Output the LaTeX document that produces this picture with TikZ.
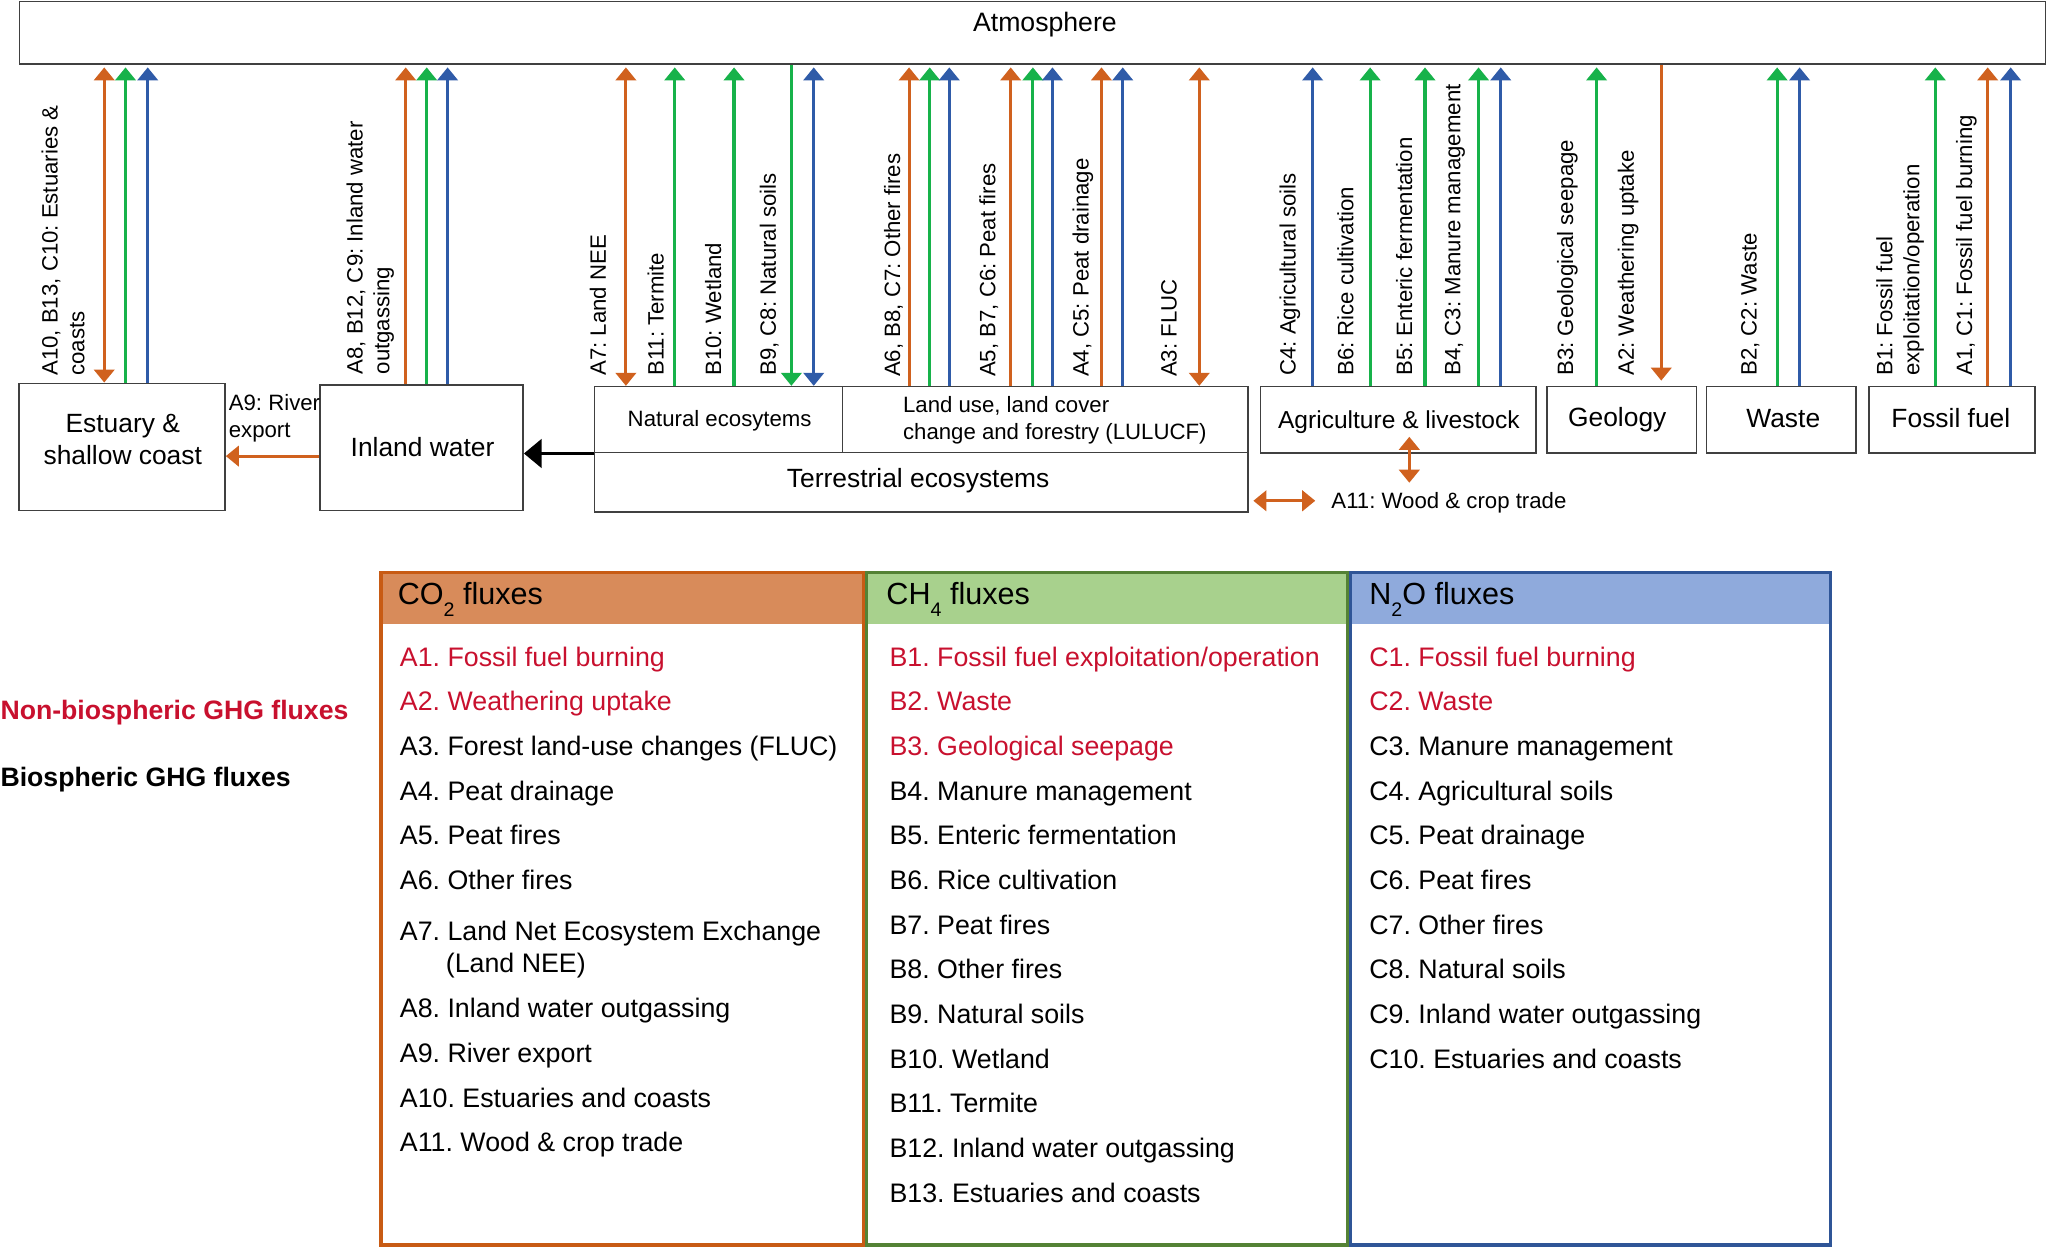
\documentclass[tikz,border=0pt]{standalone}
\usepackage{fontspec}
\setmainfont{Liberation Sans}
\usetikzlibrary{arrows.meta}
\frenchspacing
\definecolor{cor}{HTML}{D0611E}
\definecolor{cgr}{HTML}{17B24A}
\definecolor{cbl}{HTML}{2F5BA8}
\definecolor{tor}{HTML}{C85B14}
\definecolor{tgr}{HTML}{548235}
\definecolor{tbl}{HTML}{2F5597}
\definecolor{hor}{HTML}{D88B5A}
\definecolor{hgr}{HTML}{A8D18D}
\definecolor{hbl}{HTML}{8FAADC}
\definecolor{cred}{HTML}{C8102E}
\definecolor{bx}{HTML}{404040}
\newcommand{\gsub}[1]{\raisebox{-4.5pt}{\fontsize{7.5}{8}\selectfont #1}}
\begin{document}
\begin{tikzpicture}[x=0.5pt,y=-0.5pt,
  >={Triangle[width=7.8pt,length=5pt]},
  box/.style={draw=bx, line width=0.6pt, inner sep=0, rectangle},
  flux/.style={line width=1.2pt},
  lab/.style={rotate=90, anchor=west, inner sep=0, align=left, font=\fontsize{8.5}{10.3}\selectfont},
  txt/.style={inner sep=0, font=\fontsize{10.1}{12.2}\selectfont},
  item/.style={anchor=base west, inner sep=0, font=\fontsize{10.25}{12}\selectfont},
  hdr/.style={anchor=base west, inner sep=0, font=\fontsize{11.7}{14}\selectfont},
  frame/.style={line width=1.3pt, inner sep=0, anchor=north west, minimum height=257.5pt},
  head/.style={inner sep=0, anchor=north west, minimum height=20.15pt},
]
\useasboundingbox (0,0) rectangle (1568,954);

% ---------- boxes ----------
\node[box, minimum width=775.5pt, minimum height=24pt] (atm) at (790.5,25) {};
\node[txt, font=\fontsize{10.2}{12}\selectfont] (atmt) at (800,19) {Atmosphere};

\node[box, minimum width=78.8pt, minimum height=48.75pt] (est) at (93.5,342.25) {};
\node[box, minimum width=77.75pt, minimum height=48.1pt] (inl) at (322.75,342.9) {};
\node[box, minimum width=95pt, minimum height=25.3pt] (nat) at (550,321.3) {};
\node[box, minimum width=155.25pt, minimum height=25.3pt] (lul) at (800.25,321.3) {};
\node[box, minimum width=250.25pt, minimum height=22.6pt] (ter) at (705.25,369.2) {};
\node[box, minimum width=105.5pt, minimum height=25.5pt] (agr) at (1070.5,321.5) {};
\node[box, minimum width=57.05pt, minimum height=25.5pt] (geo) at (1241.65,321.5) {};
\node[box, minimum width=57.25pt, minimum height=25.5pt] (was) at (1363.75,321.5) {};
\node[box, minimum width=63.5pt, minimum height=25.5pt] (fos) at (1494.5,321.5) {};

\node[txt, align=center] (estt) at (94,336.2) {Estuary \&\\shallow coast};
\node[txt] (inlt) at (323.5,342) {Inland water};
\node[txt, font=\fontsize{8.5}{10.2}\selectfont] (natt) at (551,322.4) {Natural ecosytems};
\node[txt, font=\fontsize{8.5}{10.2}\selectfont, align=left, anchor=west] (lult) at (691,321.6) {Land use, land cover\\change and forestry (LULUCF)};
\node[txt] (tert) at (703,368) {Terrestrial ecosystems};
\node[txt, font=\fontsize{9.4}{11}\selectfont] (agrt) at (1071,322.9) {Agriculture \& livestock};
\node[txt] (geot) at (1238.2,321.6) {Geology};
\node[txt] (wast) at (1365.3,320.3) {Waste};
\node[txt] (fost) at (1493.6,320.3) {Fossil fuel};

% ---------- vertical fluxes ----------
\foreach \xx/\cc/\ss in {96.1/cgr/est, 113.1/cbl/est, 310.6/cor/inl, 326.7/cgr/inl, 342.7/cbl/inl,
  516.6/cgr/nat, 562/cgr/nat, 696/cor/lul, 711.8/cgr/lul, 726.8/cbl/lul, 773.8/cor/lul,
  790.8/cgr/lul, 805.8/cbl/lul, 843.3/cor/lul, 859.6/cbl/lul, 1005/cbl/agr, 1049/cgr/agr,
  1091/cgr/agr, 1132/cgr/agr, 1149/cbl/agr, 1222.4/cgr/geo, 1360.6/cgr/was, 1377.8/cbl/was,
  1481.7/cgr/fos, 1521.8/cor/fos, 1539.4/cbl/fos}
  \draw[flux,\cc,->,shorten >=1pt] (\ss.north -| \xx,0) -- (atm.south -| \xx,0);
\foreach \xx/\cc/\ss in {79.8/cor/est, 479.2/cor/nat, 623/cbl/nat, 918.2/cor/lul}
  \draw[flux,\cc,<->,shorten >=1pt] (\ss.north -| \xx,0) -- (atm.south -| \xx,0);
\draw[flux,cgr,->] (atm.south -| 605.9,0) -- (nat.north -| 605.9,0);
\draw[flux,cor,->,shorten >=2pt] (atm.south -| 1271.9,0) -- (geo.north -| 1271.9,0);

% ---------- flux labels ----------
\node[lab] (lA10) at (48.3,288) {A10, B13, C10: Estuaries \&\\coasts};
\node[lab] (lA8) at (283.5,287) {A8, B12, C9: Inland water\\outgassing};
\node[lab] (lA7) at (457.7,288) {A7: Land NEE};
\node[lab] (lB11) at (502,288) {B11: Termite};
\node[lab] (lB10) at (546,288) {B10: Wetland};
\node[lab] (lB9) at (589,288) {B9, C8: Natural soils};
\node[lab] (lA6) at (684,289) {A6, B8, C7: Other fires};
\node[lab] (lA5) at (757,289) {A5, B7, C6: Peat fires};
\node[lab] (lA4) at (829,289) {A4, C5: Peat drainage};
\node[lab] (lA3) at (895,289) {A3: FLUC};
\node[lab] (lC4) at (987.6,288) {C4: Agricultural soils};
\node[lab] (lB6) at (1030,288) {B6: Rice cultivation};
\node[lab] (lB5) at (1075,288) {B5: Enteric fermentation};
\node[lab] (lB4) at (1114,288) {B4, C3: Manure management};
\node[lab] (lB3) at (1200,288) {B3: Geological seepage};
\node[lab] (lA2) at (1246.5,288) {A2: Weathering uptake};
\node[lab] (lB2) at (1340,288) {B2, C2: Waste};
\node[lab] (lB1) at (1454.8,288) {B1: Fossil fuel\\exploitation/operation};
\node[lab] (lA1) at (1505.5,288) {A1, C1: Fossil fuel burning};

% ---------- lateral fluxes ----------
\draw[line width=1.4pt, -{Triangle[width=10.8pt,length=6.75pt]}] (nat.south west) -- (inl.east |- nat.south west);
\coordinate (a9s) at ([yshift=-3.15pt]inl.west);
\draw[flux,cor,->] (a9s) -- (a9s -| est.east);
\node[txt, font=\fontsize{8.5}{10.25}\selectfont, align=left, anchor=west] (a9lab) at (174.8,320.3) {A9: River\\export};

\coordinate (a11t) at (1079,334.4);
\coordinate (a11b) at (1079,369.6);
\draw[flux,cor,<->] (a11t) -- (a11b);
\coordinate (a11l) at (959.6,383.4);
\coordinate (a11r) at (1007,383.4);
\draw[flux,cor,<->] (a11l) -- (a11r);
\node[txt, font=\fontsize{8.5}{10}\selectfont, anchor=west] (a11lab) at (1019,385) {A11: Wood \& crop trade};

% ---------- legend ----------
\node[item, font=\bfseries\fontsize{10.2}{12}\selectfont, text=cred] (nonbio) at (0,551) {Non-biospheric GHG fluxes};
\node[item, font=\bfseries\fontsize{10.2}{12}\selectfont] (bio) at (0,602) {Biospheric GHG fluxes};

% ---------- table ----------
\node[head, fill=hor, minimum width=184.65pt] (co2h) at (290.5,437) {};
\node[head, fill=hgr, minimum width=184pt] (ch4h) at (662.3,437) {};
\node[head, fill=hbl, minimum width=183.6pt] (n2oh) at (1032.8,437) {};
\node[frame, draw=tor, minimum width=184.65pt] (co2) at (290.5,437) {};
\node[frame, draw=tgr, minimum width=184pt] (ch4) at (662.3,437) {};
\node[frame, draw=tbl, minimum width=183.6pt] (n2o) at (1032.8,437) {};

\node[hdr] (co2t) at (304.2,462.7) {CO\gsub{2} fluxes};
\node[hdr] (ch4t) at (678.3,463) {CH\gsub{4} fluxes};
\node[hdr] (n2ot) at (1048,463) {N\gsub{2}O fluxes};

\node[item, text=cred] (A1) at (305.8,510.1) {A1. Fossil fuel burning};
\node[item, text=cred] (A2) at (305.8,544.3) {A2. Weathering uptake};
\node[item] (A3) at (305.8,578.5) {A3. Forest land-use changes (FLUC)};
\node[item] (A4) at (305.8,612.7) {A4. Peat drainage};
\node[item] (A5) at (305.8,646.9) {A5. Peat fires};
\node[item] (A6) at (305.8,681.1) {A6. Other fires};
\node[item] (A7) at (305.8,720.3) {A7. Land Net Ecosystem Exchange};
\node[item] (A7b) at (341,744.3) {(Land NEE)};
\node[item] (A8) at (305.8,779.3) {A8. Inland water outgassing};
\node[item] (A9) at (305.8,813.5) {A9. River export};
\node[item] (A10) at (305.8,847.7) {A10. Estuaries and coasts};
\node[item] (A11) at (305.8,881.9) {A11. Wood \& crop trade};

\node[item, text=cred] (B1) at (680.7,510.1) {B1. Fossil fuel exploitation/operation};
\node[item, text=cred] (B2) at (680.7,544.3) {B2. Waste};
\node[item, text=cred] (B3) at (680.7,578.5) {B3. Geological seepage};
\node[item] (B4) at (680.7,612.7) {B4. Manure management};
\node[item] (B5) at (680.7,646.9) {B5. Enteric fermentation};
\node[item] (B6) at (680.7,681.1) {B6. Rice cultivation};
\node[item] (B7) at (680.7,715.3) {B7. Peat fires};
\node[item] (B8) at (680.7,749.5) {B8. Other fires};
\node[item] (B9) at (680.7,783.7) {B9. Natural soils};
\node[item] (B10) at (680.7,817.9) {B10. Wetland};
\node[item] (B11) at (680.7,852.1) {B11. Termite};
\node[item] (B12) at (680.7,886.3) {B12. Inland water outgassing};
\node[item] (B13) at (680.7,920.5) {B13. Estuaries and coasts};

\node[item, text=cred] (C1) at (1048,510.1) {C1. Fossil fuel burning};
\node[item, text=cred] (C2) at (1048,544.3) {C2. Waste};
\node[item] (C3) at (1048,578.5) {C3. Manure management};
\node[item] (C4) at (1048,612.7) {C4. Agricultural soils};
\node[item] (C5) at (1048,646.9) {C5. Peat drainage};
\node[item] (C6) at (1048,681.1) {C6. Peat fires};
\node[item] (C7) at (1048,715.3) {C7. Other fires};
\node[item] (C8) at (1048,749.5) {C8. Natural soils};
\node[item] (C9) at (1048,783.7) {C9. Inland water outgassing};
\node[item] (C10) at (1048,817.9) {C10. Estuaries and coasts};
\end{tikzpicture}
\end{document}
